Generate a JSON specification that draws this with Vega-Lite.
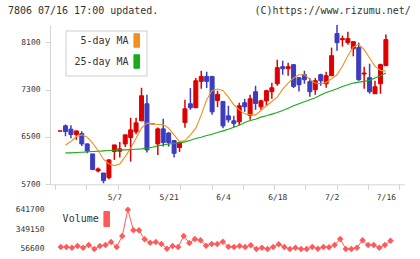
{
  "$schema": "https://vega.github.io/schema/vega-lite/v6.json",
  "autosize": {"type": "pad"},
  "padding": {"left": 8, "top": 6, "right": 5, "bottom": 5},
  "background": "white",
  "title": {
    "text": "7806 07/16 17:00 updated.\u00a0\u00a0\u00a0\u00a0\u00a0\u00a0\u00a0\u00a0\u00a0\u00a0\u00a0\u00a0\u00a0\u00a0\u00a0\u00a0(C)https://www.rizumu.net/",
    "anchor": "start", "frame": "group", "dx": -42, "offset": 8,
    "font": "DejaVu Sans Mono", "fontSize": 10, "fontWeight": "normal", "color": "#333333"
  },
  "bounds": "flush",
  "spacing": 24.7,
  "datasets": {
    "candles": [
      {"i": 0, "open": 6598, "high": 6604, "low": 6596, "close": 6602},
      {"i": 1, "open": 6687, "high": 6710, "low": 6512, "close": 6591},
      {"i": 2, "open": 6631, "high": 6698, "low": 6478, "close": 6540},
      {"i": 3, "open": 6540, "high": 6602, "low": 6450, "close": 6602},
      {"i": 4, "open": 6557, "high": 6597, "low": 6348, "close": 6382},
      {"i": 5, "open": 6382, "high": 6390, "low": 6224, "close": 6264},
      {"i": 6, "open": 6213, "high": 6213, "low": 5948, "close": 5948},
      {"i": 7, "open": 5925, "high": 5982, "low": 5903, "close": 5959},
      {"i": 8, "open": 5891, "high": 5891, "low": 5717, "close": 5762},
      {"i": 9, "open": 5812, "high": 6123, "low": 5784, "close": 6112},
      {"i": 10, "open": 6253, "high": 6365, "low": 6112, "close": 6365},
      {"i": 11, "open": 6258, "high": 6416, "low": 6151, "close": 6298},
      {"i": 12, "open": 6382, "high": 6535, "low": 6330, "close": 6535},
      {"i": 13, "open": 6490, "high": 6823, "low": 6083, "close": 6619},
      {"i": 14, "open": 6586, "high": 6823, "low": 6546, "close": 6738},
      {"i": 15, "open": 6772, "high": 7330, "low": 6772, "close": 7195},
      {"i": 16, "open": 7060, "high": 7212, "low": 6236, "close": 6281},
      {"i": 17, "open": 6722, "high": 6722, "low": 6722, "close": 6722},
      {"i": 18, "open": 6382, "high": 6659, "low": 6196, "close": 6636},
      {"i": 19, "open": 6636, "high": 6806, "low": 6337, "close": 6405},
      {"i": 20, "open": 6566, "high": 6580, "low": 6337, "close": 6405},
      {"i": 21, "open": 6439, "high": 6450, "low": 6151, "close": 6224},
      {"i": 22, "open": 6320, "high": 6405, "low": 6247, "close": 6405},
      {"i": 23, "open": 6744, "high": 7127, "low": 6653, "close": 6975},
      {"i": 24, "open": 7060, "high": 7325, "low": 6958, "close": 6992},
      {"i": 25, "open": 6992, "high": 7494, "low": 6992, "close": 7449},
      {"i": 26, "open": 7438, "high": 7618, "low": 7313, "close": 7522},
      {"i": 27, "open": 7522, "high": 7601, "low": 7325, "close": 7438},
      {"i": 28, "open": 7522, "high": 7530, "low": 6873, "close": 6924},
      {"i": 29, "open": 7116, "high": 7280, "low": 7003, "close": 7218},
      {"i": 30, "open": 7099, "high": 7105, "low": 6648, "close": 6687},
      {"i": 31, "open": 6856, "high": 7026, "low": 6744, "close": 6789},
      {"i": 32, "open": 6772, "high": 6856, "low": 6665, "close": 6727},
      {"i": 33, "open": 6755, "high": 7077, "low": 6698, "close": 7026},
      {"i": 34, "open": 7077, "high": 7144, "low": 6924, "close": 7009},
      {"i": 35, "open": 6862, "high": 7212, "low": 6789, "close": 7144},
      {"i": 36, "open": 7263, "high": 7364, "low": 6958, "close": 7065},
      {"i": 37, "open": 7009, "high": 7127, "low": 6958, "close": 7110},
      {"i": 38, "open": 7110, "high": 7297, "low": 7026, "close": 7280},
      {"i": 39, "open": 7263, "high": 7415, "low": 7144, "close": 7330},
      {"i": 40, "open": 7398, "high": 7804, "low": 7364, "close": 7669},
      {"i": 41, "open": 7686, "high": 7787, "low": 7551, "close": 7652},
      {"i": 42, "open": 7652, "high": 7754, "low": 7534, "close": 7686},
      {"i": 43, "open": 7720, "high": 7725, "low": 7325, "close": 7353},
      {"i": 44, "open": 7500, "high": 7505, "low": 7268, "close": 7381},
      {"i": 45, "open": 7551, "high": 7618, "low": 7398, "close": 7466},
      {"i": 46, "open": 7432, "high": 7494, "low": 7178, "close": 7263},
      {"i": 47, "open": 7297, "high": 7494, "low": 7212, "close": 7449},
      {"i": 48, "open": 7551, "high": 7567, "low": 7364, "close": 7449},
      {"i": 49, "open": 7398, "high": 7601, "low": 7330, "close": 7534},
      {"i": 50, "open": 7534, "high": 8008, "low": 7534, "close": 7872},
      {"i": 51, "open": 8245, "high": 8390, "low": 7957, "close": 8092},
      {"i": 52, "open": 8143, "high": 8211, "low": 8025, "close": 8160},
      {"i": 53, "open": 8092, "high": 8278, "low": 8058, "close": 8160},
      {"i": 54, "open": 7991, "high": 8109, "low": 7861, "close": 8109},
      {"i": 55, "open": 8008, "high": 8092, "low": 7449, "close": 7466},
      {"i": 56, "open": 7562, "high": 7686, "low": 7313, "close": 7579},
      {"i": 57, "open": 7500, "high": 7737, "low": 7229, "close": 7263},
      {"i": 58, "open": 7229, "high": 7449, "low": 7229, "close": 7347},
      {"i": 59, "open": 7398, "high": 7737, "low": 7229, "close": 7720},
      {"i": 60, "open": 7703, "high": 8228, "low": 7703, "close": 8143}
    ],
    "ma": [
      {"i": 1, "ma5": 6365, "ma25": 6230}, {"i": 2, "ma5": 6422, "ma25": 6230},
      {"i": 3, "ma5": 6507, "ma25": 6236}, {"i": 4, "ma5": 6535, "ma25": 6241},
      {"i": 5, "ma5": 6495, "ma25": 6247}, {"i": 6, "ma5": 6394, "ma25": 6253},
      {"i": 7, "ma5": 6270, "ma25": 6258}, {"i": 8, "ma5": 6123, "ma25": 6264},
      {"i": 9, "ma5": 6044, "ma25": 6270}, {"i": 10, "ma5": 6016, "ma25": 6275},
      {"i": 11, "ma5": 6044, "ma25": 6281}, {"i": 12, "ma5": 6168, "ma25": 6281},
      {"i": 13, "ma5": 6309, "ma25": 6287}, {"i": 14, "ma5": 6478, "ma25": 6292},
      {"i": 15, "ma5": 6648, "ma25": 6298}, {"i": 16, "ma5": 6732, "ma25": 6309},
      {"i": 17, "ma5": 6721, "ma25": 6326}, {"i": 18, "ma5": 6710, "ma25": 6349},
      {"i": 19, "ma5": 6710, "ma25": 6365}, {"i": 20, "ma5": 6648, "ma25": 6382},
      {"i": 21, "ma5": 6535, "ma25": 6388}, {"i": 22, "ma5": 6422, "ma25": 6399},
      {"i": 23, "ma5": 6439, "ma25": 6416}, {"i": 24, "ma5": 6535, "ma25": 6444},
      {"i": 25, "ma5": 6648, "ma25": 6473}, {"i": 26, "ma5": 6873, "ma25": 6495},
      {"i": 27, "ma5": 7127, "ma25": 6523}, {"i": 28, "ma5": 7285, "ma25": 6546},
      {"i": 29, "ma5": 7308, "ma25": 6574}, {"i": 30, "ma5": 7285, "ma25": 6602},
      {"i": 31, "ma5": 7172, "ma25": 6631}, {"i": 32, "ma5": 7043, "ma25": 6665},
      {"i": 33, "ma5": 6958, "ma25": 6698}, {"i": 34, "ma5": 6890, "ma25": 6744},
      {"i": 35, "ma5": 6873, "ma25": 6777}, {"i": 36, "ma5": 6873, "ma25": 6800},
      {"i": 37, "ma5": 6947, "ma25": 6834}, {"i": 38, "ma5": 7026, "ma25": 6856},
      {"i": 39, "ma5": 7099, "ma25": 6885}, {"i": 40, "ma5": 7172, "ma25": 6913},
      {"i": 41, "ma5": 7308, "ma25": 6947}, {"i": 42, "ma5": 7409, "ma25": 6986},
      {"i": 43, "ma5": 7494, "ma25": 7026}, {"i": 44, "ma5": 7550, "ma25": 7060},
      {"i": 45, "ma5": 7550, "ma25": 7093}, {"i": 46, "ma5": 7477, "ma25": 7127},
      {"i": 47, "ma5": 7409, "ma25": 7161}, {"i": 48, "ma5": 7398, "ma25": 7206},
      {"i": 49, "ma5": 7421, "ma25": 7251}, {"i": 50, "ma5": 7483, "ma25": 7280},
      {"i": 51, "ma5": 7550, "ma25": 7313}, {"i": 52, "ma5": 7692, "ma25": 7353},
      {"i": 53, "ma5": 7872, "ma25": 7381}, {"i": 54, "ma5": 8019, "ma25": 7409},
      {"i": 55, "ma5": 8064, "ma25": 7426}, {"i": 56, "ma5": 7974, "ma25": 7438},
      {"i": 57, "ma5": 7833, "ma25": 7455}, {"i": 58, "ma5": 7692, "ma25": 7494},
      {"i": 59, "ma5": 7624, "ma25": 7534}, {"i": 60, "ma5": 7613, "ma25": 7579}
    ],
    "volume": [
      {"i": 1, "volume": 86400}, {"i": 2, "volume": 86400}, {"i": 3, "volume": 76500},
      {"i": 4, "volume": 101300}, {"i": 5, "volume": 76500}, {"i": 6, "volume": 116200},
      {"i": 7, "volume": 56600}, {"i": 8, "volume": 101300}, {"i": 9, "volume": 116200},
      {"i": 10, "volume": 160800}, {"i": 11, "volume": 86400}, {"i": 12, "volume": 250200},
      {"i": 13, "volume": 641700}, {"i": 14, "volume": 334500}, {"i": 15, "volume": 334500},
      {"i": 16, "volume": 200500}, {"i": 17, "volume": 150900}, {"i": 18, "volume": 160800},
      {"i": 19, "volume": 131000}, {"i": 20, "volume": 61600}, {"i": 21, "volume": 101300},
      {"i": 22, "volume": 86400}, {"i": 23, "volume": 250200}, {"i": 24, "volume": 145900},
      {"i": 25, "volume": 205500}, {"i": 26, "volume": 185600}, {"i": 27, "volume": 106200},
      {"i": 28, "volume": 131000}, {"i": 29, "volume": 131000}, {"i": 30, "volume": 165800},
      {"i": 31, "volume": 91300}, {"i": 32, "volume": 86400}, {"i": 33, "volume": 101300},
      {"i": 34, "volume": 86400}, {"i": 35, "volume": 111200}, {"i": 36, "volume": 56600},
      {"i": 37, "volume": 76500}, {"i": 38, "volume": 56600}, {"i": 39, "volume": 86400},
      {"i": 40, "volume": 126100}, {"i": 41, "volume": 86400}, {"i": 42, "volume": 56600},
      {"i": 43, "volume": 76500}, {"i": 44, "volume": 56600}, {"i": 45, "volume": 56600},
      {"i": 46, "volume": 86400}, {"i": 47, "volume": 61600}, {"i": 48, "volume": 86400},
      {"i": 49, "volume": 81400}, {"i": 50, "volume": 116200}, {"i": 51, "volume": 205500},
      {"i": 52, "volume": 56600}, {"i": 53, "volume": 56600}, {"i": 54, "volume": 76500},
      {"i": 55, "volume": 185600}, {"i": 56, "volume": 116200}, {"i": 57, "volume": 116200},
      {"i": 58, "volume": 76500}, {"i": 59, "volume": 116200}, {"i": 60, "volume": 180700}
    ]
  },
  "vconcat": [
    {
      "width": 354.3,
      "height": 159.3,
      "layer": [
        {
          "data": {"name": "candles"},
          "mark": {"type": "rule", "strokeWidth": 1.5},
          "encoding": {
            "x": {"field": "i", "type": "quantitative",
              "scale": {"domain": [-0.931, 62.47], "nice": false, "zero": false},
              "axis": {
                "values": [-0.931, 4.833, 10.597, 16.361, 22.125, 27.889, 33.653, 39.417, 45.181, 50.945, 56.709, 62.47, 10, 20, 30, 40, 50, 60],
                "tickCount": 100,
                "labelExpr": "datum.value == 10 ? '5/7' : datum.value == 20 ? '5/21' : datum.value == 30 ? '6/4' : datum.value == 40 ? '6/18' : datum.value == 50 ? '7/2' : datum.value == 60 ? '7/16' : ''",
                "tickOpacity": {"condition": {"test": "datum.value % 10 == 0", "value": 0}, "value": 1},
                "tickSize": 5, "labelPadding": 4, "labelFlush": false, "labelOverlap": false, "labelBound": false,
                "title": null, "grid": false
              }
            },
            "y": {"field": "low", "type": "quantitative",
              "scale": {"domain": [5700, 8390], "nice": false, "zero": false},
              "axis": {"values": [5700, 6500, 7300, 8100], "tickCount": 100, "format": "d", "tickSize": 5, "labelPadding": 5, "title": null, "grid": false}
            },
            "y2": {"field": "high"},
            "stroke": {"condition": {"test": "datum.close >= datum.open", "value": "#dd0000"}, "value": "#3c3cbe"}
          }
        },
        {
          "data": {"name": "candles"},
          "mark": {"type": "bar", "size": 4, "strokeWidth": 1},
          "encoding": {
            "x": {"field": "i", "type": "quantitative", "scale": {"domain": [-0.931, 62.47], "nice": false, "zero": false}},
            "y": {"field": "open", "type": "quantitative", "scale": {"domain": [5700, 8390], "nice": false, "zero": false}},
            "y2": {"field": "close"},
            "fill": {"condition": {"test": "datum.close >= datum.open", "value": "#dd0000"}, "value": "#3c3cbe"},
            "stroke": {"condition": {"test": "datum.close >= datum.open", "value": "#dd0000"}, "value": "#3c3cbe"}
          }
        },
        {
          "data": {"name": "ma"},
          "transform": [{"fold": ["ma5", "ma25"], "as": ["series", "value"]}],
          "mark": {"type": "line", "strokeWidth": 1.1},
          "encoding": {
            "x": {"field": "i", "type": "quantitative", "scale": {"domain": [-0.931, 62.47], "nice": false, "zero": false}},
            "y": {"field": "value", "type": "quantitative", "scale": {"domain": [5700, 8390], "nice": false, "zero": false}},
            "color": {"field": "series", "type": "nominal",
              "scale": {"domain": ["ma5", "ma25"], "range": ["#f0901e", "#1aaa1a"]},
              "legend": {
                "orient": "none", "legendX": 15.5, "legendY": 5.5, "title": null, "direction": "vertical",
                "fillColor": "white", "strokeColor": "#cccccc", "padding": 5,
                "labelAlign": "right", "labelOffset": -13.2, "symbolOffset": 61.2,
                "symbolType": "M-0.92,-2.25H0.92V2.25H-0.92Z", "symbolSize": 36,
                "symbolStrokeWidth": 1, "symbolStrokeColor": "#333333", "rowPadding": 3,
                "labelFont": "DejaVu Sans Mono", "labelFontSize": 10, "labelColor": "#333333",
                "labelExpr": "datum.label == 'ma5' ? '5-day MA' : '25-day MA'",
                "encode": {"symbols": {"update": {
                  "fill": {"signal": "datum.value == 'ma5' ? '#f0901e' : '#1aaa1a'"},
                  "fillOpacity": {"value": 1},
                  "stroke": {"value": "#333333"}
                }}}
              }
            }
          }
        }
      ]
    },
    {
      "width": 354.3,
      "height": 39.3,
      "data": {"name": "volume"},
      "encoding": {
        "x": {"field": "i", "type": "quantitative", "scale": {"domain": [-0.931, 62.47], "nice": false, "zero": false}, "axis": null},
        "y": {"field": "volume", "type": "quantitative",
          "scale": {"domain": [56600, 641700], "nice": false, "zero": false},
          "axis": {"values": [56600, 349150, 641700], "tickCount": 100, "format": "d", "domain": false, "ticks": false, "labelPadding": 6, "title": null, "grid": false}
        }
      },
      "layer": [
        {
          "mark": {"type": "line", "strokeWidth": 1},
          "encoding": {
            "color": {"datum": "Volume", "scale": {"range": ["#ff5a5a"]},
              "legend": {
                "orient": "none", "legendX": 9.7, "legendY": 4.3, "title": null, "padding": 0,
                "labelAlign": "right", "labelOffset": -13, "symbolOffset": 42,
                "symbolType": "M-0.93,-2.5H0.93V2.5H-0.93Z", "symbolSize": 36,
                "symbolStrokeWidth": 1, "symbolStrokeColor": "#333333",
                "labelFont": "DejaVu Sans Mono", "labelFontSize": 10, "labelColor": "#333333",
                "encode": {"symbols": {"update": {
                  "fill": {"value": "#ff5a5a"},
                  "fillOpacity": {"value": 1},
                  "stroke": {"value": "#333333"}
                }}}
              }
            }
          }
        },
        {
          "mark": {"type": "point", "shape": "diamond", "filled": true, "size": 42, "color": "#ff5a5a", "opacity": 1}
        }
      ]
    }
  ],
  "resolve": {
    "scale": {"x": "independent", "y": "independent", "color": "independent"},
    "legend": {"color": "independent"}
  },
  "config": {
    "view": {"stroke": null},
    "axis": {
      "labelFont": "DejaVu Sans Mono", "labelFontSize": 8, "labelColor": "#333333",
      "domainColor": "#d4d4d4", "tickColor": "#d4d4d4", "grid": false
    }
  }
}
